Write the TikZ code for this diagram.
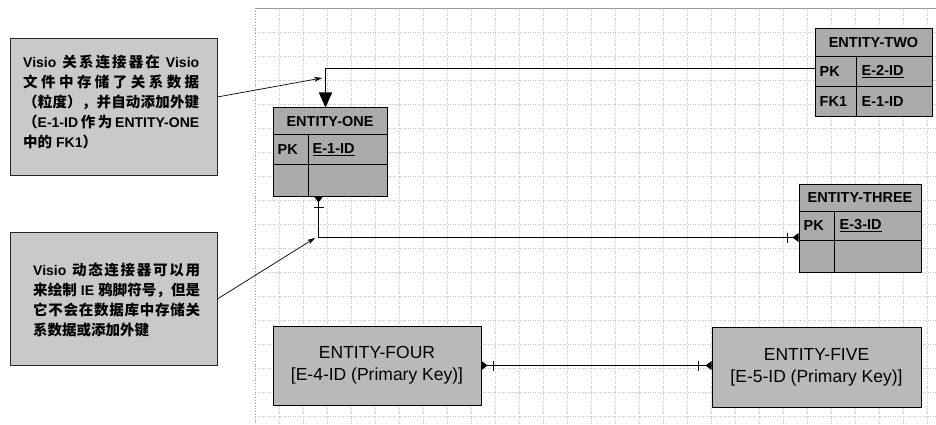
\documentclass[tikz,border=0pt]{standalone}
\usepackage{fontspec}
\setmainfont{Liberation Sans}
\newfontfamily\cjk{Noto Sans CJK SC}
\usetikzlibrary{arrows.meta,calc}
\definecolor{calloutfill}{HTML}{C9C9C9}
\definecolor{entfill}{HTML}{ABABAB}
\definecolor{bigfill}{HTML}{B9B9B9}
\newcommand\zh[1]{{\cjk\bfseries\fontsize{14.5}{20}\selectfont #1}}
\newcommand\J[2]{\makebox[#1][s]{#2}}
\begin{document}
\begin{tikzpicture}[x=1pt,y=-1pt,
  gridline/.style={gray!45, dotted, line width=0.5pt},
  cbox/.style={draw=black!85, line width=0.8pt, fill=calloutfill, inner sep=0pt},
  ctext/.style={inner sep=0pt, align=left, font=\bfseries\fontsize{14}{20}\selectfont},
  ebox/.style={draw=black, line width=1pt, fill=entfill, inner sep=0pt},
  bigbox/.style={draw=black, line width=1pt, fill=bigfill, inner sep=0pt, align=center,
    font=\fontsize{17.5}{22}\selectfont},
  eline/.style={black, line width=0.9pt},
  etext/.style={inner sep=0pt, font=\bfseries\fontsize{14.5}{16}\selectfont},
  conn/.style={black, line width=1.6pt},
  cfmark/.style={black, fill=black, line width=0.6pt},
  cfbar/.style={black, line width=1.4pt},
  callarrow/.style={black, line width=0.7pt, -{Stealth[length=8pt,width=5pt]}}]
\useasboundingbox (0,0) rectangle (936,425);
\fill[white] (0,0) rectangle (936,425);
% grid
\foreach \x in {279,303,...,936} \draw[gridline] (\x,8) -- (\x,425);
\foreach \y in {32,56,...,425} \draw[gridline] (255,\y) -- (936,\y);
\draw[gray!80, line width=0.9pt] (255,8) -- (936,8);
\draw[gray!80, dotted, line width=0.8pt] (255,8) -- (255,425);

% callout boxes
\node[cbox, minimum width=207pt, minimum height=137pt] (b1) at (113.5,106.5) {};
\node[ctext, anchor=north west] (t1) at (23,55) {%
\J{176pt}{Visio\hfil\ \zh{关\hfil 系\hfil 连\hfil 接\hfil 器\hfil 在}\hfil\ Visio}\\
\J{176pt}{\zh{文\hfil 件\hfil 中\hfil 存\hfil 储\hfil 了\hfil 关\hfil 系\hfil 数\hfil 据}}\\
\J{176pt}{\zh{（\hfil 粒\hfil 度\hfil ）\hfil ，\hfil 并\hfil 自\hfil 动\hfil 添\hfil 加\hfil 外\hfil 键}}\\
\J{176pt}{\zh{（}E-1-ID\hfil\zh{作\hfil 为}\hfil ENTITY-ONE}\\
\zh{中的} FK1\zh{）}};

\node[cbox, minimum width=207pt, minimum height=133pt] (b2) at (113.5,298.5) {};
\node[ctext, anchor=north west] (t2) at (33,263) {%
\J{167pt}{Visio\hfil\ \zh{动\hfil 态\hfil 连\hfil 接\hfil 器\hfil 可\hfil 以\hfil 用}}\\
\J{167pt}{\zh{来\hfil 绘\hfil 制}\hfil\ IE\hfil\ \zh{鸦\hfil 脚\hfil 符\hfil 号\hfil ，\hfil 但\hfil 是}}\\
\J{167pt}{\zh{它\hfil 不\hfil 会\hfil 在\hfil 数\hfil 据\hfil 库\hfil 中\hfil 存\hfil 储\hfil 关}}\\
\zh{系数据或添加外键}};

% ENTITY-ONE
\node[ebox, minimum width=114pt, minimum height=88pt] (e1) at (330,152) {};
\draw[eline] ($(e1.north west)+(0,27)$) -- ($(e1.north east)+(0,27)$);
\draw[eline] ($(e1.north west)+(0,57)$) -- ($(e1.north east)+(0,57)$);
\draw[eline] ($(e1.north west)+(36,27)$) -- ($(e1.south west)+(36,0)$);
\node[etext] (e1h) at ($(e1.north)+(0,14)$) {ENTITY-ONE};
\node[etext, anchor=west] (e1pk) at ($(e1.north west)+(5,42)$) {PK};
\node[etext, anchor=west] (e1id) at ($(e1.north west)+(40,42)$) {\underline{E-1-ID}};

% ENTITY-TWO
\node[ebox, minimum width=117pt, minimum height=88pt] (e2) at (873.5,73) {};
\draw[eline] ($(e2.north west)+(0,28)$) -- ($(e2.north east)+(0,28)$);
\draw[eline] ($(e2.north west)+(0,58)$) -- ($(e2.north east)+(0,58)$);
\draw[eline] ($(e2.north west)+(42,28)$) -- ($(e2.south west)+(42,0)$);
\node[etext] (e2h) at ($(e2.north)+(0,14)$) {ENTITY-TWO};
\node[etext, anchor=west] (e2pk) at ($(e2.north west)+(5,43)$) {PK};
\node[etext, anchor=west] (e2id) at ($(e2.north west)+(47,43)$) {\underline{E-2-ID}};
\node[etext, anchor=west] (e2fk) at ($(e2.north west)+(5,73)$) {FK1};
\node[etext, anchor=west] (e2fid) at ($(e2.north west)+(47,73)$) {E-1-ID};

% ENTITY-THREE
\node[ebox, minimum width=122pt, minimum height=88pt] (e3) at (860,228) {};
\draw[eline] ($(e3.north west)+(0,28)$) -- ($(e3.north east)+(0,28)$);
\draw[eline] ($(e3.north west)+(0,57)$) -- ($(e3.north east)+(0,57)$);
\draw[eline] ($(e3.north west)+(36,28)$) -- ($(e3.south west)+(36,0)$);
\node[etext] (e3h) at ($(e3.north)+(0,14)$) {ENTITY-THREE};
\node[etext, anchor=west] (e3pk) at ($(e3.north west)+(5,42.5)$) {PK};
\node[etext, anchor=west] (e3id) at ($(e3.north west)+(41,42.5)$) {\underline{E-3-ID}};

% ENTITY-FOUR / FIVE
\node[bigbox, minimum width=208pt, minimum height=79pt] (e4) at (377,365.5) {ENTITY-FOUR\\{[}E-4-ID (Primary Key){]}};
\node[bigbox, minimum width=209pt, minimum height=80pt] (e5) at (816.5,367) {ENTITY-FIVE\\{[}E-5-ID (Primary Key){]}};

% connector ENTITY-TWO -> ENTITY-ONE
\coordinate (e2pkl) at ($(e2.north west)+(0,40)$);
\coordinate (e1top) at ($(e1.north west)+(53,0)$);
\draw[conn, -{Triangle[length=15pt,width=13pt]}] (e2pkl) -| (e1top);

% connector ENTITY-ONE -> ENTITY-THREE
\coordinate (e1bot) at ($(e1.south west)+(46,0)$);
\coordinate (e3in) at ($(e3.north west)+(0,54)$);
\draw[conn] (e1bot) |- (e3in);
\fill[cfmark] ($(e1bot)+(-4.5,0)$) -- ($(e1bot)+(4.5,0)$) -- ($(e1bot)+(0,6)$) -- cycle;
\draw[cfbar] ($(e1bot)+(-5,11)$) -- ($(e1bot)+(5,11)$);
\fill[cfmark] ($(e3in)+(0,-4.5)$) -- ($(e3in)+(0,4.5)$) -- ($(e3in)+(-6,0)$) -- cycle;
\draw[cfbar] ($(e3in)+(-11,-5)$) -- ($(e3in)+(-11,5)$);

% connector ENTITY-FOUR -> ENTITY-FIVE
\coordinate (e4out) at (e4.east);
\coordinate (e5in) at (e4.east -| e5.west);
\draw[conn] (e4out) -- (e5in);
\fill[cfmark] ($(e4out)+(0,-4.5)$) -- ($(e4out)+(0,4.5)$) -- ($(e4out)+(6,0)$) -- cycle;
\draw[cfbar] ($(e4out)+(12,-5)$) -- ($(e4out)+(12,5)$);
\fill[cfmark] ($(e5in)+(0,-4.5)$) -- ($(e5in)+(0,4.5)$) -- ($(e5in)+(-6,0)$) -- cycle;
\draw[cfbar] ($(e5in)+(-13,-5)$) -- ($(e5in)+(-13,5)$);

% callout arrows
\coordinate (c1) at (322,78);
\coordinate (c2) at (315,238);
\draw[callarrow] ($(b1.east)+(0,-9.5)$) -- (c1);
\draw[callarrow] ($(b2.east)+(0,0.5)$) -- (c2);
\end{tikzpicture}
\end{document}
